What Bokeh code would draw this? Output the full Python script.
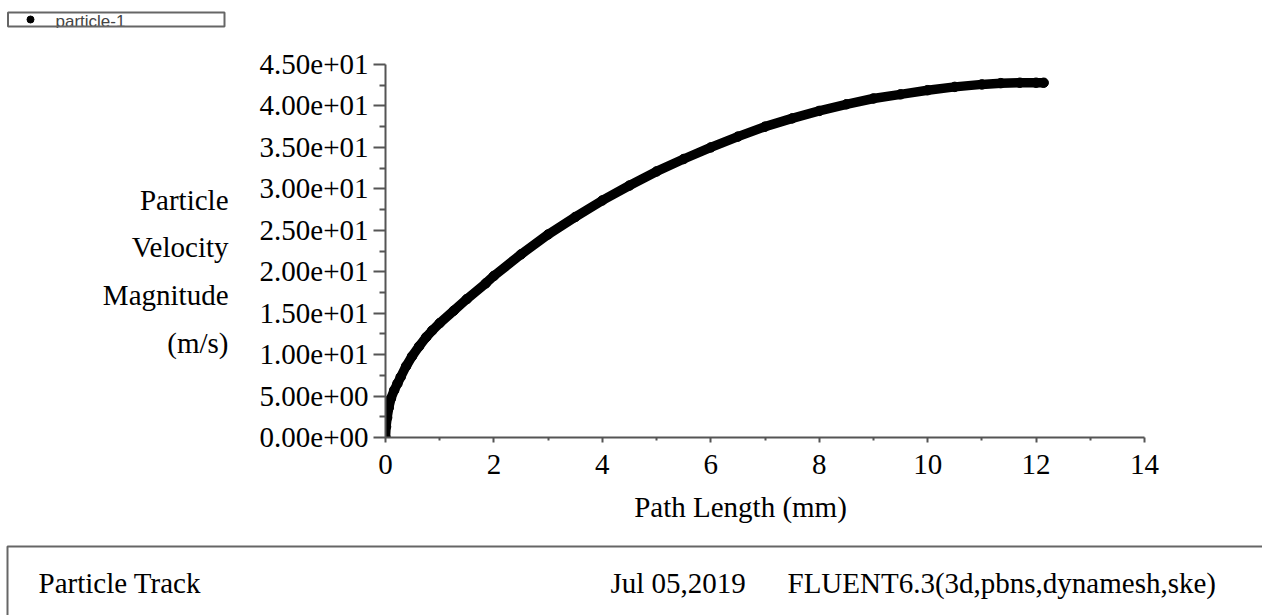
from bokeh.plotting import figure
from bokeh.models import Range1d, FixedTicker
from bokeh.layouts import column, row
from bokeh.embed import file_html
from bokeh.resources import INLINE
from bokeh.core.properties import value

# ---- data ----
path_length = [0.0, 0.01, 0.03, 0.06, 0.1, 0.16, 0.22, 0.28, 0.38, 0.49, 0.62, 0.75,
               0.86, 1.0, 1.26, 1.5, 1.85, 2.0, 2.5, 3.0, 3.5, 4.0, 4.5, 5.0, 5.5,
               6.0, 6.5, 7.0, 7.5, 8.0, 8.5, 9.0, 9.5, 10.0, 10.5, 11.0, 11.35, 11.7,
               12.0, 12.14]
velocity = [0.0, 1.3, 2.4, 3.6, 4.7, 5.7, 6.5, 7.3, 8.6, 9.8, 11.0, 12.1,
            12.9, 13.8, 15.3, 16.7, 18.6, 19.5, 22.1, 24.5, 26.6, 28.6, 30.4, 32.1, 33.6,
            35.0, 36.3, 37.5, 38.5, 39.4, 40.2, 40.9, 41.4, 41.9, 42.3, 42.6, 42.75, 42.8,
            42.8, 42.8]

x_ticks = [0, 2, 4, 6, 8, 10, 12, 14]
x_minor_ticks = [1, 3, 5, 7, 9, 11, 13]
y_ticks = [0, 5, 10, 15, 20, 25, 30, 35, 40, 45]
y_minor_ticks = [2.5, 7.5, 12.5, 17.5, 22.5, 27.5, 32.5, 37.5, 42.5]
y_tick_labels = ["0.00e+00", "5.00e+00", "1.00e+01", "1.50e+01", "2.00e+01",
                 "2.50e+01", "3.00e+01", "3.50e+01", "4.00e+01", "4.50e+01"]

series_name = "particle-1"
y_title_lines = ["Particle", "Velocity", "Magnitude", "(m/s)"]
x_title = "Path Length (mm)"
footer_left = "Particle Track"
footer_date = "Jul 05,2019"
footer_right = "FLUENT6.3(3d,pbns,dynamesh,ske)"

SERIF = "Liberation Serif"
FS = "29px"
AXC = "#555555"
W = 1262
ROW_H = 464
BORDER_TOP = 36
BORDER_BOTTOM = 55


def blank(w, h, **kw):
    f = figure(width=w, height=h, x_range=Range1d(0, w), y_range=Range1d(h, 0),
               x_axis_type=None, y_axis_type=None, output_backend="svg",
               toolbar_location=None, min_border=0, **kw)
    f.grid.visible = False
    f.outline_line_color = None
    return f


# ---- legend strip (page y 0..28) ----
leg = blank(W, 28)
leg.text(x=[55], y=[21], text=[series_name], text_font=value("Liberation Sans"),
         text_font_size="17px", text_color="#444444", text_baseline="alphabetic")
leg.scatter(x=[30], y=[19], size=7, color="black")
leg.quad(left=[7.5], right=[224], top=[12], bottom=[26], fill_color=None,
         line_color="#666666", line_width=2)

# ---- y title (same frame as the main plot: page y 64..437) ----
tt = figure(width=248, height=ROW_H, x_range=Range1d(0, 248), y_range=Range1d(437, 64),
            x_axis_type=None, y_axis_type=None, output_backend="svg",
            toolbar_location=None, min_border_left=0, min_border_right=0,
            min_border_top=BORDER_TOP, min_border_bottom=BORDER_BOTTOM)
tt.grid.visible = False
tt.outline_line_color = None
tt.text(x=[228] * 4, y=[199.6, 246.6, 294.6, 342.6], text=y_title_lines,
        text_font=value(SERIF), text_font_size=FS, text_color="black",
        text_align="right", text_baseline="alphabetic")

# ---- main plot ----
p = figure(width=1014, height=ROW_H, x_range=Range1d(0, 14), y_range=Range1d(0, 45),
           output_backend="svg", toolbar_location=None,
           min_border_left=137, min_border_right=118, min_border_top=BORDER_TOP,
           min_border_bottom=BORDER_BOTTOM)
p.grid.visible = False
p.outline_line_color = None

xa = p.xaxis[0]
xa.ticker = FixedTicker(ticks=x_ticks, minor_ticks=x_minor_ticks)
xa.major_tick_out = 5
xa.major_tick_in = 0
xa.minor_tick_out = 3
xa.minor_tick_in = 0
xa.major_label_standoff = 12
xa.major_label_text_font = SERIF
xa.major_label_text_font_size = FS
xa.major_label_text_color = "black"
xa.axis_line_color = AXC
xa.axis_line_width = 2
xa.major_tick_line_color = AXC
xa.major_tick_line_width = 2
xa.minor_tick_line_color = AXC
xa.minor_tick_line_width = 2

ya = p.yaxis[0]
ya.ticker = FixedTicker(ticks=y_ticks, minor_ticks=y_minor_ticks)
ya.major_label_overrides = {t: lab for t, lab in zip(y_ticks, y_tick_labels)}
ya.major_tick_out = 12
ya.major_tick_in = 0
ya.minor_tick_out = 6
ya.minor_tick_in = 0
ya.major_label_standoff = 5
ya.major_label_text_font = SERIF
ya.major_label_text_font_size = FS
ya.major_label_text_color = "black"
ya.axis_line_color = AXC
ya.axis_line_width = 2
ya.major_tick_line_color = AXC
ya.major_tick_line_width = 2
ya.minor_tick_line_color = AXC
ya.minor_tick_line_width = 2

p.line(path_length, velocity, line_width=9.5, line_color="black",
       line_join="round", line_cap="round")
p.scatter(path_length, velocity, size=9.5, color="black")

# ---- bottom: x title + footer box (page y 492..615) ----
bt = blank(W, 123)
bt.text(x=[740], y=[14], text=[x_title], text_font=value(SERIF), text_font_size=FS,
        text_color="black", text_align="center", text_baseline="alphabetic")
bt.quad(left=[7], right=[1400], top=[54], bottom=[300], fill_color=None,
        line_color="#666666", line_width=2)
bt.text(x=[38, 610, 787], y=[90, 90, 90], text=[footer_left, footer_date, footer_right],
        text_font=value(SERIF), text_font_size=FS, text_color="black",
        text_baseline="alphabetic")

layout = column(leg, row(tt, p), bt)
open("out.html", "w").write(file_html(layout, INLINE))
